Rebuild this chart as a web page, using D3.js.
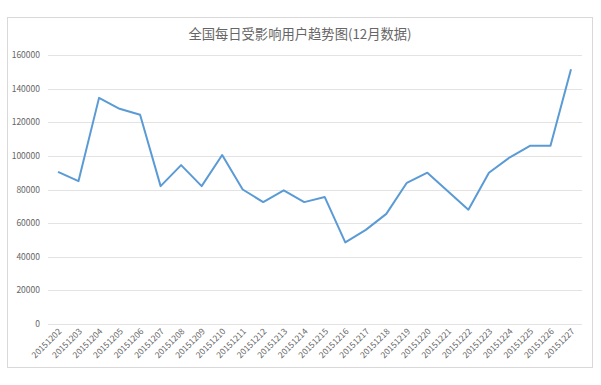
<!DOCTYPE html>
<html>
<head>
<meta charset="utf-8">
<script src="https://cdnjs.cloudflare.com/ajax/libs/d3/7.8.5/d3.min.js"></script>
<style>
  body { margin: 0; background: #fff; }
  text { font-family: "Noto Sans CJK SC", "Noto Sans", sans-serif; }
</style>
</head>
<body>
<svg id="chart" width="601" height="385"></svg>
<script>
// data
const dates = ["20151202","20151203","20151204","20151205","20151206","20151207","20151208",
  "20151209","20151210","20151211","20151212","20151213","20151214","20151215","20151216",
  "20151217","20151218","20151219","20151220","20151221","20151222","20151223","20151224",
  "20151225","20151226","20151227"]
const users = [90500, 85000, 134500, 128000, 124500, 82000, 94500, 82000, 100500, 80000, 72500,
  79500, 72500, 75500, 48500, 56000, 65500, 84000, 90000, 79000, 68000, 90000, 99000,
  106000, 106000, 151500]
const yTicks = [0, 20000, 40000, 60000, 80000, 100000, 120000, 140000, 160000]
const title = "全国每日受影响用户趋势图(12月数据)"

const svg = d3.select("#chart")

// outer chart frame
svg.append("rect")
    .attr("x", 7.5).attr("y", 17.5)
    .attr("width", 585).attr("height", 350)
    .attr("fill", "#fff")
    .attr("stroke", "#d9d9d9")

svg.append("text")
    .attr("x", 300).attr("y", 39)
    .attr("text-anchor", "middle")
    .attr("font-size", 13.3)
    .attr("fill", "#666")
    .text(title)

// plot area
const x = d3.scalePoint().domain(dates).range([58, 571])
const y = d3.scaleLinear().domain([0, 160000]).range([324, 55])

// gridlines
svg.append("g")
    .selectAll("line")
    .data(yTicks)
    .join("line")
    .attr("x1", 48).attr("x2", 582)
    .attr("y1", d => Math.round(y(d)) + 0.5)
    .attr("y2", d => Math.round(y(d)) + 0.5)
    .attr("stroke", "#e3e3e3")

// y labels
svg.append("g")
    .selectAll("text")
    .data(yTicks)
    .join("text")
    .attr("x", 40)
    .attr("y", d => y(d) + 3)
    .attr("text-anchor", "end")
    .attr("font-size", 8.5)
    .attr("fill", "#666")
    .text(d => d)

// x labels, rotated like Excel
svg.append("g")
    .selectAll("text")
    .data(dates)
    .join("text")
    .attr("transform", d => `translate(${x(d) + 4},${332}) rotate(-45)`)
    .attr("text-anchor", "end")
    .attr("font-size", 8.5)
    .attr("fill", "#666")
    .text(d => d)

// the line
const line = d3.line()
    .x((d, i) => x(dates[i]))
    .y(d => y(d))

svg.append("path")
    .datum(users)
    .attr("d", line)
    .attr("fill", "none")
    .attr("stroke", "#5b9bd5")
    .attr("stroke-width", 2)
    .attr("stroke-linejoin", "round")
</script>
</body>
</html>
